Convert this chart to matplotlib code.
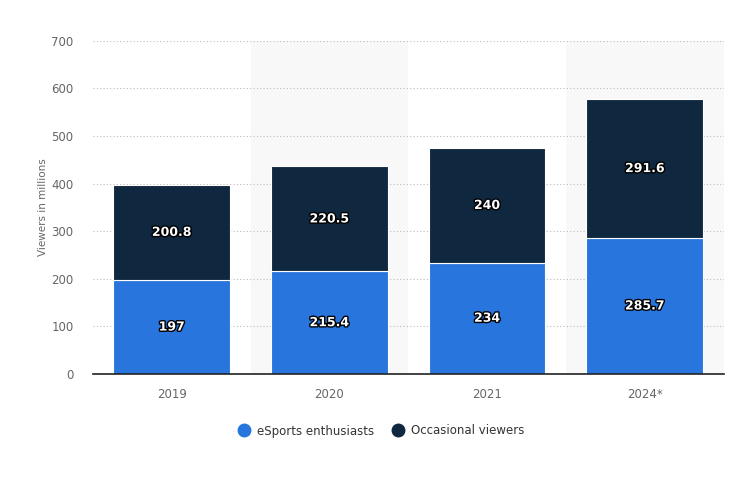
import numpy as np
import matplotlib.pyplot as plt
import matplotlib.patheffects as pe
from matplotlib.lines import Line2D

years = ["2019", "2020", "2021", "2024*"]
enthusiasts = [197, 215.4, 234, 285.7]
occasional = [200.8, 220.5, 240, 291.6]

blue = "#2876dd"
navy = "#0f2840"

fig = plt.figure(figsize=(7.43, 4.8), dpi=100)
ax = fig.add_axes([0.125, 0.221, 0.849, 0.694])

x = np.arange(len(years))
for i in x:
    if i % 2 == 1:
        ax.axvspan(i - 0.5, i + 0.5, color="#f8f8f8", zorder=0, lw=0)

ax.bar(x, enthusiasts, width=0.74, color=blue, edgecolor="white", linewidth=0.8, zorder=3)
ax.bar(x, occasional, width=0.74, bottom=enthusiasts, color=navy, edgecolor="white", linewidth=0.8, zorder=3)

fx = [pe.withStroke(linewidth=2, foreground="black")]
for i in x:
    ax.text(i, enthusiasts[i] / 2, f"{enthusiasts[i]:g}", ha="center", va="center",
            color="white", fontsize=9, fontweight="bold", path_effects=fx, zorder=4)
    ax.text(i, enthusiasts[i] + occasional[i] / 2, f"{occasional[i]:g}", ha="center", va="center",
            color="white", fontsize=9, fontweight="bold", path_effects=fx, zorder=4)

ax.set_xlim(-0.5, len(years) - 0.5)
ax.set_ylim(0, 700)
ax.set_yticks(range(0, 701, 100))
ax.set_xticks(x)
ax.set_xticklabels(years)
ax.yaxis.grid(True, linestyle=(0, (1, 2)), color="#bbbbbb", linewidth=0.8, zorder=1)
ax.set_axisbelow(True)
for s in ["top", "right", "left"]:
    ax.spines[s].set_visible(False)
ax.spines["bottom"].set_color("#222222")
ax.spines["bottom"].set_linewidth(1.2)
ax.spines["bottom"].set_zorder(5)
ax.tick_params(axis="both", length=0, colors="#666666", labelsize=8.5)
ax.tick_params(axis="x", pad=10)
ax.tick_params(axis="y", pad=14)
ax.set_ylabel("Viewers in millions", fontsize=7.5, color="#666666", labelpad=2)

handles = [Line2D([], [], marker="o", ls="", markersize=9, color=blue),
           Line2D([], [], marker="o", ls="", markersize=9, color=navy)]
fig.legend(handles, ["eSports enthusiasts", "Occasional viewers"], loc="center",
           bbox_to_anchor=(378 / 743, 1 - 431 / 480), ncol=2, frameon=False,
           fontsize=8.5, handletextpad=0.1, columnspacing=1.0, labelcolor="#333333")

fig.savefig("out.png", dpi=100)
